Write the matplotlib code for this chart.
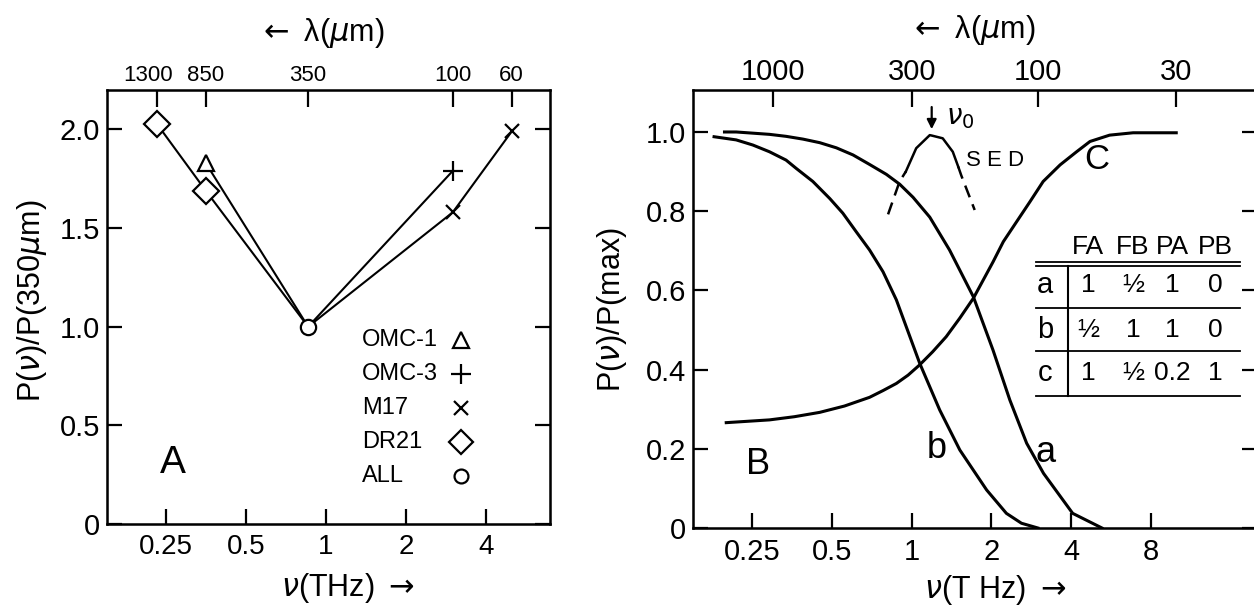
import matplotlib
matplotlib.use("Agg")
import matplotlib.pyplot as plt
from matplotlib.lines import Line2D
from matplotlib.ticker import NullLocator
from matplotlib.transforms import ScaledTranslation

plt.rcParams['font.family'] = ['Liberation Sans', 'DejaVu Sans']
plt.rcParams['mathtext.fontset'] = 'dejavusans'

C_UM_THZ = 299.79  # lambda(um) -> nu(THz)

# ---- Panel A data (wavelength in um, polarization ratio) ----
lam_dr21 = [1300, 850, 350]
p_dr21 = [2.03, 1.69, 1.0]
lam_omc1 = [850, 350]
p_omc1 = [1.83, 1.0]
lam_omc3 = [100, 350]
p_omc3 = [1.79, 1.0]
lam_m17 = [60, 100, 350]
p_m17 = [1.99, 1.58, 1.0]
lam_all = [350]
p_all = [1.0]
legend_names = ["OMC-1", "OMC-3", "M17", "DR21", "ALL"]
legend_marks = ["^", "+", "x", "D", "o"]

a_xticks = [0.25, 0.5, 1, 2, 4]
a_xlabels = ["0.25", "0.5", "1", "2", "4"]
a_yticks = [0, 0.5, 1.0, 1.5, 2.0]
a_ylabels = ["0", "0.5", "1.0", "1.5", "2.0"]
a_top_lam = [1300, 850, 350, 100, 60]

# ---- Panel B data (nu in THz, P/Pmax) ----
nu_a = [0.196, 0.217, 0.251, 0.290, 0.335, 0.388, 0.449, 0.519, 0.600, 0.693,
        0.802, 0.901, 1.012, 1.17, 1.39, 1.71, 2.03, 2.35, 2.72, 3.15, 4.06, 5.24]
p_a = [1.00, 1.00, 0.997, 0.994, 0.989, 0.982, 0.973, 0.960, 0.942, 0.918,
       0.893, 0.868, 0.835, 0.785, 0.702, 0.584, 0.449, 0.323, 0.214, 0.138, 0.037, 0.0]
nu_b = [0.179, 0.217, 0.251, 0.290, 0.335, 0.366, 0.423, 0.490, 0.549, 0.617,
        0.693, 0.779, 0.875, 1.072, 1.276, 1.52, 1.92, 2.28, 2.6, 3.0]
p_b = [0.988, 0.980, 0.967, 0.950, 0.929, 0.908, 0.875, 0.832, 0.795, 0.748,
       0.702, 0.647, 0.576, 0.416, 0.298, 0.197, 0.096, 0.037, 0.012, 0.0]
nu_c = [0.199, 0.290, 0.360, 0.449, 0.557, 0.693, 0.779, 0.875, 0.969, 1.072,
        1.20, 1.35, 1.52, 1.71, 2.03, 2.22, 2.49, 2.80, 3.14, 3.64, 4.2, 4.72,
        5.6, 6.87, 10.0]
p_c = [0.266, 0.273, 0.281, 0.292, 0.308, 0.330, 0.347, 0.365, 0.386, 0.412,
       0.445, 0.483, 0.53, 0.58, 0.672, 0.723, 0.773, 0.824, 0.875, 0.917, 0.95, 0.976,
       0.992, 0.998, 0.998]
nu_sed = [0.814, 0.90, 0.95, 1.04, 1.17, 1.19, 1.31, 1.43, 1.50, 1.54, 1.73]
p_sed = [0.792, 0.875, 0.90, 0.959, 0.992, 0.991, 0.984, 0.95, 0.912, 0.89, 0.803]
nu0 = 1.19

b_xticks = [0.25, 0.5, 1, 2, 4, 8]
b_xlabels = ["0.25", "0.5", "1", "2", "4", "8"]
b_yticks = [0, 0.2, 0.4, 0.6, 0.8, 1.0]
b_ylabels = ["0", "0.2", "0.4", "0.6", "0.8", "1.0"]
b_top_lam = [1000, 300, 100, 30]

table_cols = ["FA", "FB", "PA", "PB"]
table_rows = ["a", "b", "c"]
table_vals = [["1", "½", "1", "0"],
              ["½", "1", "1", "0"],
              ["1", "½", "0.2", "1"]]

W, H = 1254, 607
fig = plt.figure(figsize=(W / 100, H / 100), dpi=100)


def fx(x):
    return x / W


def fy(y):
    return 1 - y / H


def style_axes(ax, xlim, ylim, xt, xl, yt, yl, fs_x, fs_y):
    ax.set_xscale('log')
    ax.set_xlim(*xlim)
    ax.set_ylim(*ylim)
    ax.set_xticks(xt, xl)
    ax.set_yticks(yt, yl)
    ax.xaxis.set_minor_locator(NullLocator())
    for s in ax.spines.values():
        s.set_linewidth(1.8)
    ax.tick_params(axis='both', direction='in', length=11, width=1.6,
                   top=False, right=True, labelright=False)
    ax.tick_params(axis='x', labelsize=fs_x, pad=7)
    ax.tick_params(axis='y', labelsize=fs_y, pad=5)


def add_top(ax, lams, fs):
    top = ax.twiny()
    top.set_xscale('log')
    top.set_xlim(ax.get_xlim())
    top.set_xticks([C_UM_THZ / l for l in lams], [str(l) for l in lams])
    top.xaxis.set_minor_locator(NullLocator())
    top.tick_params(axis='x', direction='in', length=12, width=1.6,
                    labelsize=fs, pad=3)
    return top


# ================= Panel A =================
axA = fig.add_axes([fx(107), fy(524), fx(550) - fx(107), fy(90) - fy(524)])
style_axes(axA, (0.15, 6.96), (0, 2.2), a_xticks, a_xlabels,
           a_yticks, a_ylabels, 20, 21)
topA = add_top(axA, a_top_lam, 16)
first = topA.get_xticklabels()[0]
first.set_transform(first.get_transform() +
                    ScaledTranslation(-6 / 72, 0, fig.dpi_scale_trans))

lw_a = 1.5
series = [(lam_dr21, p_dr21, 'D', 13), (lam_omc1, p_omc1, '^', 12),
          (lam_omc3, p_omc3, '+', 14), (lam_m17, p_m17, 'x', 10)]
for lam, p, m, ms in series:
    nu = [C_UM_THZ / l for l in lam]
    axA.plot(nu, p, color='black', lw=lw_a, zorder=2)
    axA.plot(nu[:-1], p[:-1], ls='none', marker=m, ms=ms, mfc='white',
             mec='black', mew=1.6, zorder=3)
axA.plot([C_UM_THZ / l for l in lam_all], p_all, ls='none', marker='o',
         ms=11, mfc='white', mec='black', mew=1.6, zorder=4)

# legend (label column + symbol column)
for i, (name, m) in enumerate(zip(legend_names, legend_marks)):
    ypix = 340 + i * 34
    fig.text(fx(362), fy(ypix), name, fontsize=17, va='center', ha='left')
    ms = {'^': 11, '+': 14, 'x': 10, 'D': 12, 'o': 10}[m]
    fig.add_artist(Line2D([fx(461)], [fy(ypix)], marker=m, ms=ms, ls='none',
                          mfc='white', mec='black', mew=1.6))

fig.text(fx(173), fy(463), "A", fontsize=28, ha='center', va='center')
fig.text(fx(32), fy(301), r"P($\nu$)/P(350$\mu$m)", fontsize=22,
         rotation=90, ha='center', va='center')
fig.text(fx(348), fy(588), r"$\nu$(THz) $\rightarrow$", fontsize=22,
         ha='center', va='center')
fig.text(fx(321), fy(33), r"$\leftarrow$ λ($\mu$m)", fontsize=22,
         ha='center', va='center')

# ================= Panel B =================
axB = fig.add_axes([fx(693), fy(528), fx(1257) - fx(693), fy(90) - fy(528)])
style_axes(axB, (0.149, 20.2), (0, 1.106), b_xticks, b_xlabels,
           b_yticks, b_ylabels, 21, 21)
add_top(axB, b_top_lam, 21)

lw_b = 2.2
for nu, p in [(nu_a, p_a), (nu_b, p_b), (nu_c, p_c)]:
    axB.plot(nu, p, color='black', lw=lw_b, solid_joinstyle='round')
axB.plot(nu_sed[:3], p_sed[:3], color='black', lw=1.8, ls=(0, (5, 3)))
axB.plot(nu_sed[2:9], p_sed[2:9], color='black', lw=1.8)
axB.plot(nu_sed[8:], p_sed[8:], color='black', lw=1.8, ls=(0, (5, 3)))
axB.annotate("", xy=(nu0, 1.0), xytext=(nu0, 1.07),
             arrowprops=dict(arrowstyle='-|>', color='black', lw=1.6,
                             mutation_scale=14))

fig.text(fx(946), fy(118), r"$\nu_0$", fontsize=20, ha='left', va='center')
fig.text(fx(966), fy(161), "S E D", fontsize=16, ha='left', va='center')
fig.text(fx(1097), fy(160), "C", fontsize=25, ha='center', va='center')
fig.text(fx(758), fy(465), "B", fontsize=26, ha='center', va='center')
fig.text(fx(937), fy(448), "b", fontsize=26, ha='center', va='center')
fig.text(fx(1046), fy(452), "a", fontsize=26, ha='center', va='center')

fig.text(fx(612), fy(310), r"P($\nu$)/P(max)", fontsize=22,
         rotation=90, ha='center', va='center')
fig.text(fx(995), fy(590), r"$\nu$(T Hz) $\rightarrow$", fontsize=22,
         ha='center', va='center')
fig.text(fx(972), fy(30), r"$\leftarrow$ λ($\mu$m)", fontsize=22,
         ha='center', va='center')

# inset table
col_x = [1088, 1133, 1172, 1215]
row_y = [285, 330, 373]
for cx, name in zip(col_x, table_cols):
    fig.text(fx(cx), fy(247), name, fontsize=19, ha='center', va='center')
for ry, rname, vals in zip(row_y, table_rows, table_vals):
    fig.text(fx(1045), fy(ry), rname, fontsize=21, ha='center', va='center')
    for cx, v in zip(col_x, vals):
        fig.text(fx(cx), fy(ry), v, fontsize=19, ha='center', va='center')
for ly in [262, 266, 308, 351, 396]:
    fig.add_artist(Line2D([fx(1036), fx(1240)], [fy(ly), fy(ly)],
                          color='black', lw=1.3))
fig.add_artist(Line2D([fx(1068), fx(1068)], [fy(266), fy(396)],
                      color='black', lw=1.5))

fig.savefig("out.png", dpi=100)
